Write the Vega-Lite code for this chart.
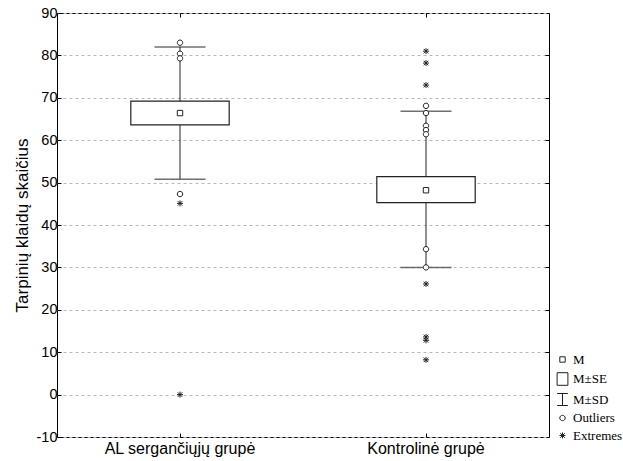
{
  "$schema": "https://vega.github.io/schema/vega-lite/v6.json",
  "autosize": {"type": "none"},
  "padding": {"left": 57, "top": 13, "right": 74, "bottom": 24},
  "width": 492,
  "height": 424,
  "background": "white",
  "config": {
    "view": {"stroke": "black", "strokeWidth": 1},
    "axis": {"labelFont": "Liberation Sans", "titleFont": "Liberation Sans", "labelColor": "black", "titleColor": "black", "domain": false, "tickColor": "black"},
    "legend": {"labelFont": "Liberation Serif", "labelColor": "black"}
  },
  "datasets": {
    "box": [
      {"g": "AL sergančiųjų grupė", "mean": 66.4, "seLo": 63.6, "seHi": 69.2, "sdLo": 50.8, "sdHi": 82.0},
      {"g": "Kontrolinė grupė", "mean": 48.2, "seLo": 45.3, "seHi": 51.4, "sdLo": 30.0, "sdHi": 66.8}
    ],
    "pts": [
      {"g": "AL sergančiųjų grupė", "kind": "M", "v": 66.4},
      {"g": "AL sergančiųjų grupė", "kind": "Outliers", "v": 83.0},
      {"g": "AL sergančiųjų grupė", "kind": "Outliers", "v": 80.4},
      {"g": "AL sergančiųjų grupė", "kind": "Outliers", "v": 79.3},
      {"g": "AL sergančiųjų grupė", "kind": "Outliers", "v": 47.3},
      {"g": "AL sergančiųjų grupė", "kind": "Extremes", "v": 45.1},
      {"g": "AL sergančiųjų grupė", "kind": "Extremes", "v": 0.0},
      {"g": "Kontrolinė grupė", "kind": "M", "v": 48.2},
      {"g": "Kontrolinė grupė", "kind": "Extremes", "v": 81.0},
      {"g": "Kontrolinė grupė", "kind": "Extremes", "v": 78.2},
      {"g": "Kontrolinė grupė", "kind": "Extremes", "v": 73.0},
      {"g": "Kontrolinė grupė", "kind": "Outliers", "v": 68.1},
      {"g": "Kontrolinė grupė", "kind": "Outliers", "v": 66.4},
      {"g": "Kontrolinė grupė", "kind": "Outliers", "v": 63.4},
      {"g": "Kontrolinė grupė", "kind": "Outliers", "v": 62.4},
      {"g": "Kontrolinė grupė", "kind": "Outliers", "v": 61.4},
      {"g": "Kontrolinė grupė", "kind": "Outliers", "v": 34.3},
      {"g": "Kontrolinė grupė", "kind": "Outliers", "v": 30.0},
      {"g": "Kontrolinė grupė", "kind": "Extremes", "v": 26.1},
      {"g": "Kontrolinė grupė", "kind": "Extremes", "v": 13.6},
      {"g": "Kontrolinė grupė", "kind": "Extremes", "v": 12.8},
      {"g": "Kontrolinė grupė", "kind": "Extremes", "v": 8.2},
      {"g": "Kontrolinė grupė", "kind": "M±SE", "v": -100},
      {"g": "Kontrolinė grupė", "kind": "M±SD", "v": -100}
    ]
  },
  "layer": [
    {
      "data": {"name": "box"},
      "mark": {"type": "rule", "color": "#222", "strokeWidth": 1},
      "encoding": {
        "x": {"field": "g", "type": "nominal", "sort": null, "scale": {"paddingInner": 0, "paddingOuter": 0},
              "axis": {"orient": "bottom", "title": null, "labelAngle": 0, "labelFontSize": 16, "tickSize": -4, "labelPadding": 7, "grid": false}},
        "y": {"field": "sdLo", "type": "quantitative", "scale": {"domain": [-10, 90], "nice": false, "zero": false},
              "axis": {"orient": "left", "values": [-10, 0, 10, 20, 30, 40, 50, 60, 70, 80, 90], "labelFontSize": 14.5, "tickSize": -4, "labelPadding": 4,
                       "labelExpr": "replace(datum.label, '−', '-')",
                       "title": "Tarpinių klaidų skaičius", "titleFontSize": 17, "titleFontWeight": "normal", "titlePadding": 5,
                       "grid": true, "gridColor": "#b8b8b8", "gridDash": [3, 3], "gridWidth": 1}},
        "y2": {"field": "sdHi"}
      }
    },
    {
      "data": {"name": "box"},
      "mark": {"type": "rect", "fill": "white", "stroke": "#222", "strokeWidth": 1.2, "width": {"band": 0.4}},
      "encoding": {
        "x": {"field": "g", "type": "nominal", "sort": null,
              "axis": {"orient": "top", "labels": false, "title": null, "tickSize": -4, "grid": false}},
        "y": {"field": "seLo", "type": "quantitative",
              "axis": {"orient": "right", "labels": false, "title": null, "tickSize": -4, "grid": false, "values": [0, 10, 20, 30, 40, 50, 60, 70, 80]}},
        "y2": {"field": "seHi"}
      }
    },
    {
      "data": {"name": "box"},
      "mark": {"type": "tick", "color": "#333", "thickness": 1.5, "size": 51},
      "encoding": {
        "x": {"field": "g", "type": "nominal", "sort": null, "axis": null},
        "y": {"field": "sdLo", "type": "quantitative", "axis": null}
      }
    },
    {
      "data": {"name": "box"},
      "mark": {"type": "tick", "color": "#333", "thickness": 1.5, "size": 51},
      "encoding": {
        "x": {"field": "g", "type": "nominal", "sort": null, "axis": null},
        "y": {"field": "sdHi", "type": "quantitative", "axis": null}
      }
    },
    {
      "data": {"name": "pts"},
      "mark": {"type": "point", "filled": true, "fill": "white", "stroke": "#222", "strokeWidth": 1, "opacity": 1, "size": 144, "clip": true},
      "encoding": {
        "x": {"field": "g", "type": "nominal", "sort": null, "axis": null},
        "y": {"field": "v", "type": "quantitative", "axis": null},
        "shape": {"field": "kind", "type": "nominal",
                  "scale": {"domain": ["M", "M±SE", "M±SD", "Outliers", "Extremes"],
                            "range": ["M-0.45,-0.45H0.45V0.45H-0.45Z",
                                      "M-0.9,-1.05H0.9V1.05H-0.9Z",
                                      "M-0.9,-1H0.9M0,-1V1M-0.9,1H0.9",
                                      "M-0.45,0A0.45,0.45 0 1,1 0.45,0A0.45,0.45 0 1,1 -0.45,0Z",
                                      "M-0.5,0H0.5M0,-0.5V0.5M-0.38,-0.38L0.38,0.38M-0.38,0.38L0.38,-0.38"]},
                  "legend": {"orient": "none", "legendX": 499, "legendY": 340, "title": null, "labelFontSize": 13, "symbolSize": 144,
                             "symbolStrokeWidth": 1, "rowPadding": 3.5, "labelOffset": 4, "padding": 0}}
      }
    }
  ],
  "resolve": {"axis": {"x": "independent", "y": "independent"}}
}
